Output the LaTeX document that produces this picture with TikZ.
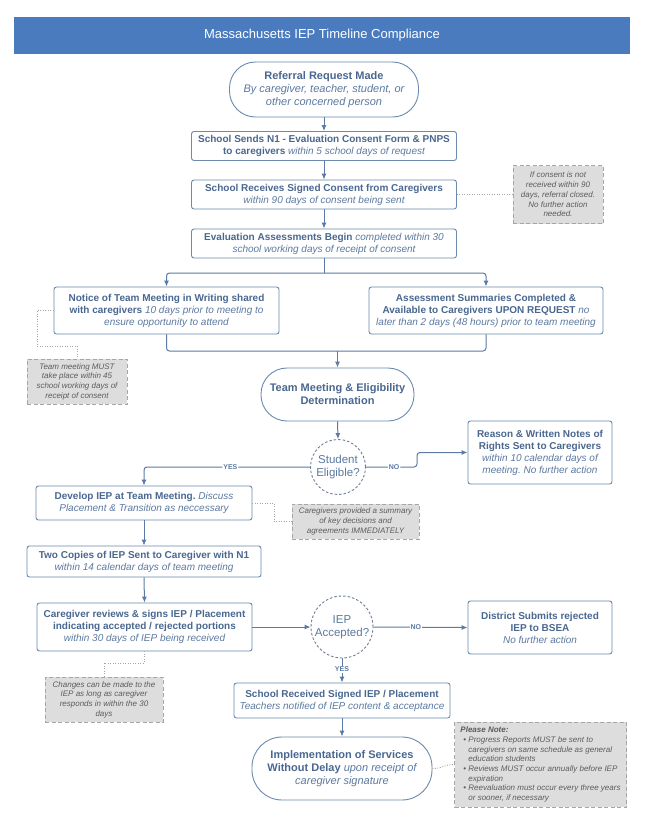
\documentclass[tikz,border=0pt]{standalone}
\usepackage{fontspec}
\setmainfont{Liberation Sans}
\usetikzlibrary{arrows.meta,calc}
\definecolor{titleblue}{RGB}{74,123,190}
\definecolor{boxline}{RGB}{107,138,174}
\definecolor{boxtext}{RGB}{74,103,144}
\definecolor{ittext}{RGB}{92,121,160}
\definecolor{arrowc}{RGB}{91,123,164}
\definecolor{notefill}{RGB}{221,221,221}
\definecolor{noteline}{RGB}{166,166,166}
\definecolor{notetext}{RGB}{92,92,92}
\definecolor{dotc}{RGB}{165,165,165}
\definecolor{circline}{RGB}{110,127,149}
\newcommand\iq[1]{{\color{ittext}\itshape #1}}
\newcommand\bul{\hspace*{3pt}\makebox[5pt][l]{\textbullet}}
\newcommand\ind{\hspace*{8pt}}
\frenchspacing
\begin{document}
\begin{tikzpicture}[x=1pt,y=-1pt,
  box/.style={draw=boxline, line width=0.9pt, rounded corners=2.5pt, fill=white,
    inner sep=0pt, align=center, text=boxtext, font=\fontsize{10}{12}\selectfont},
  pill/.style={box, font=\fontsize{11}{13}\selectfont},
  decision/.style={circle, draw=circline, line width=0.9pt, dash pattern=on 2.5pt off 2pt,
    fill=white, inner sep=0pt, align=center, text=ittext,
    font=\fontsize{11.5}{13.3}\selectfont},
  note/.style={draw=noteline, line width=0.9pt, dash pattern=on 4pt off 2.5pt, fill=notefill,
    inner sep=0pt, align=center, text=notetext, font=\fontsize{8}{9.7}\selectfont\itshape},
  titlebar/.style={fill=titleblue, text=white, inner sep=0pt, minimum width=616pt,
    minimum height=37pt, font=\fontsize{13}{15}\selectfont},
  line/.style={draw=arrowc, line width=1pt},
  conn/.style={line, -{Latex[length=6pt,width=5pt]}},
  dotl/.style={draw=dotc, line width=0.9pt, dash pattern=on 1pt off 1.5pt},
  lab/.style={fill=white, inner sep=1pt, text=arrowc, font=\fontsize{7}{8}\selectfont\bfseries}
]
\useasboundingbox (0,0) rectangle (648,825);
\fill[white] (0,0) rectangle (648,825);

\node[titlebar] (title) at (322,35.5) {Massachusetts IEP Timeline Compliance};

\node[pill, rounded corners=26pt, minimum width=189pt, minimum height=55pt] (ref) at (324,89.5)
  {\textbf{Referral Request Made}\\ \iq{By caregiver, teacher, student, or}\\ \iq{other concerned person}};

\node[box, minimum width=265pt, minimum height=29pt] (sends) at (324,146)
  {\textbf{School Sends N1 - Evaluation Consent Form \& PNPS}\\ \textbf{to caregivers} \iq{within 5 school days of request}};

\node[box, minimum width=265pt, minimum height=29pt] (receives) at (324,194.5)
  {\textbf{School Receives Signed Consent from Caregivers}\\ \iq{within 90 days of consent being sent}};

\node[note, minimum width=90pt, minimum height=58pt] (note1) at (558,194.5)
  {If consent is not\\ received within 90\\ days, referral closed.\\ No further action\\ needed.};

\node[box, minimum width=265pt, minimum height=29pt] (eval) at (324,243.5)
  {\textbf{Evaluation Assessments Begin} \iq{completed within 30}\\ \iq{school working days of receipt of consent}};

\node[box, minimum width=225pt, minimum height=47pt] (notice) at (166.5,310.5)
  {\textbf{Notice of Team Meeting in Writing shared}\\ \textbf{with caregivers} \iq{10 days prior to meeting to}\\ \iq{ensure opportunity to attend}};

\node[box, minimum width=234pt, minimum height=47pt] (assess) at (486,310.5)
  {\textbf{Assessment Summaries Completed \&}\\ \textbf{Available to Caregivers UPON REQUEST} \iq{no}\\ \iq{later than 2 days (48 hours) prior to team meeting}};

\node[note, minimum width=100pt, minimum height=45pt] (teamnote) at (77,381.5)
  {Team meeting MUST\\ take place within 45\\ school working days of\\ receipt of consent};

\node[pill, rounded corners=26pt, minimum width=153pt, minimum height=53pt] (team) at (337.5,394.5)
  {\textbf{Team Meeting \& Eligibility}\\ \textbf{Determination}};

\node[decision, minimum size=55pt] (elig) at (338,467) {Student\\ Eligible?};

\node[box, minimum width=144pt, minimum height=63pt] (reason) at (540,452.5)
  {\textbf{Reason \& Written Notes of}\\ \textbf{Rights Sent to Caregivers}\\ \iq{within 10 calendar days of}\\ \iq{meeting. No further action}};

\node[box, minimum width=216pt, minimum height=34pt] (develop) at (144,503)
  {\textbf{Develop IEP at Team Meeting.} \iq{Discuss}\\ \iq{Placement \& Transition as neccessary}};

\node[note, minimum width=127pt, minimum height=35pt] (summnote) at (355.5,521.5)
  {Caregivers provided a summary\\ of key decisions and\\ agreements IMMEDIATELY};

\node[box, minimum width=234pt, minimum height=31pt] (copies) at (144,561.5)
  {\textbf{Two Copies of IEP Sent to Caregiver with N1}\\ \iq{within 14 calendar days of team meeting}};

\node[box, minimum width=215pt, minimum height=48pt] (review) at (144.5,627)
  {\textbf{Caregiver reviews \& signs IEP / Placement}\\ \textbf{indicating accepted / rejected portions}\\ \iq{within 30 days of IEP being received}};

\node[decision, minimum size=62pt] (iep) at (342,627) {IEP\\ Accepted?};

\node[box, minimum width=144pt, minimum height=53pt] (district) at (540,627.5)
  {\textbf{District Submits rejected}\\ \textbf{IEP to BSEA}\\ \iq{No further action}};

\node[note, minimum width=118pt, minimum height=45pt] (changes) at (104,699.5)
  {Changes can be made to the\\ IEP as long as caregiver\\ responds in within the 30\\ days};

\node[box, minimum width=216pt, minimum height=35pt] (received) at (342,700.5)
  {\textbf{School Received Signed IEP / Placement}\\ \iq{Teachers notified of IEP content \& acceptance}};

\node[pill, rounded corners=30pt, minimum width=180pt, minimum height=63pt] (impl) at (342,768.5)
  {\textbf{Implementation of Services}\\ \textbf{Without Delay} \iq{upon receipt of}\\ \iq{caregiver signature}};

\node[note, align=left, minimum width=172pt, minimum height=85pt] (please) at (540.5,764.5)
  {\textbf{Please Note:}\\
   \bul Progress Reports MUST be sent to\\
   \ind caregivers on same schedule as general\\
   \ind education students\\
   \bul Reviews MUST occur annually before IEP\\
   \ind expiration\\
   \bul Reevaluation must occur every three years\\
   \ind or sooner, if necessary};

% connectors
\draw[conn] (ref.south) -- (sends.north);
\draw[conn] (sends.south) -- (receives.north);
\draw[conn] (receives.south) -- (eval.north);
\draw[dotl] (receives.east) -- (note1.west);

\coordinate (br) at (324,273);
\draw[line] (eval.south) -- (br);
\draw[conn, rounded corners=3pt] (br) -| (notice.north);
\draw[conn, rounded corners=3pt] (br) -| (assess.north);

\coordinate (jn) at (337.5,351);
\draw[line, rounded corners=3pt] (notice.south) |- (jn);
\draw[line, rounded corners=3pt] (assess.south) |- (jn);
\draw[conn] (jn) -- (team.north);

\coordinate (tn1) at (37,346);
\draw[dotl] (notice.west) -| (tn1) -| (teamnote.north);

\draw[conn] (team.south) -- (elig.north);
\draw[conn, rounded corners=3pt] (elig.west) -| node[lab, pos=0.24] {YES} (develop.north);
\coordinate (nojog) at (417,467);
\draw[conn, rounded corners=3pt] (elig.east) -- node[lab, pos=0.55] {NO} (nojog) |- (reason.west);

\coordinate (sn1) at (274,521.5);
\draw[dotl] (develop.east) -| (sn1) -- (summnote.west);

\draw[conn] (develop.south) -- (copies.north);
\draw[conn] (copies.south) -- (review.north);
\draw[conn] (review.east) -- (iep.west);
\draw[conn] (iep.east) -- node[lab, pos=0.45] {NO} (district.west);
\draw[conn] (iep.south) -- node[lab, pos=0.45] {YES} (received.north);

\coordinate (cn1) at (104,663);
\draw[dotl] (review.south) |- (cn1) -- (changes.north);

\draw[conn] (received.south) -- (impl.north);
\draw[dotl] (impl.east) .. controls (444,768.5) and (443,764.5) .. (please.west);
\end{tikzpicture}
\end{document}
